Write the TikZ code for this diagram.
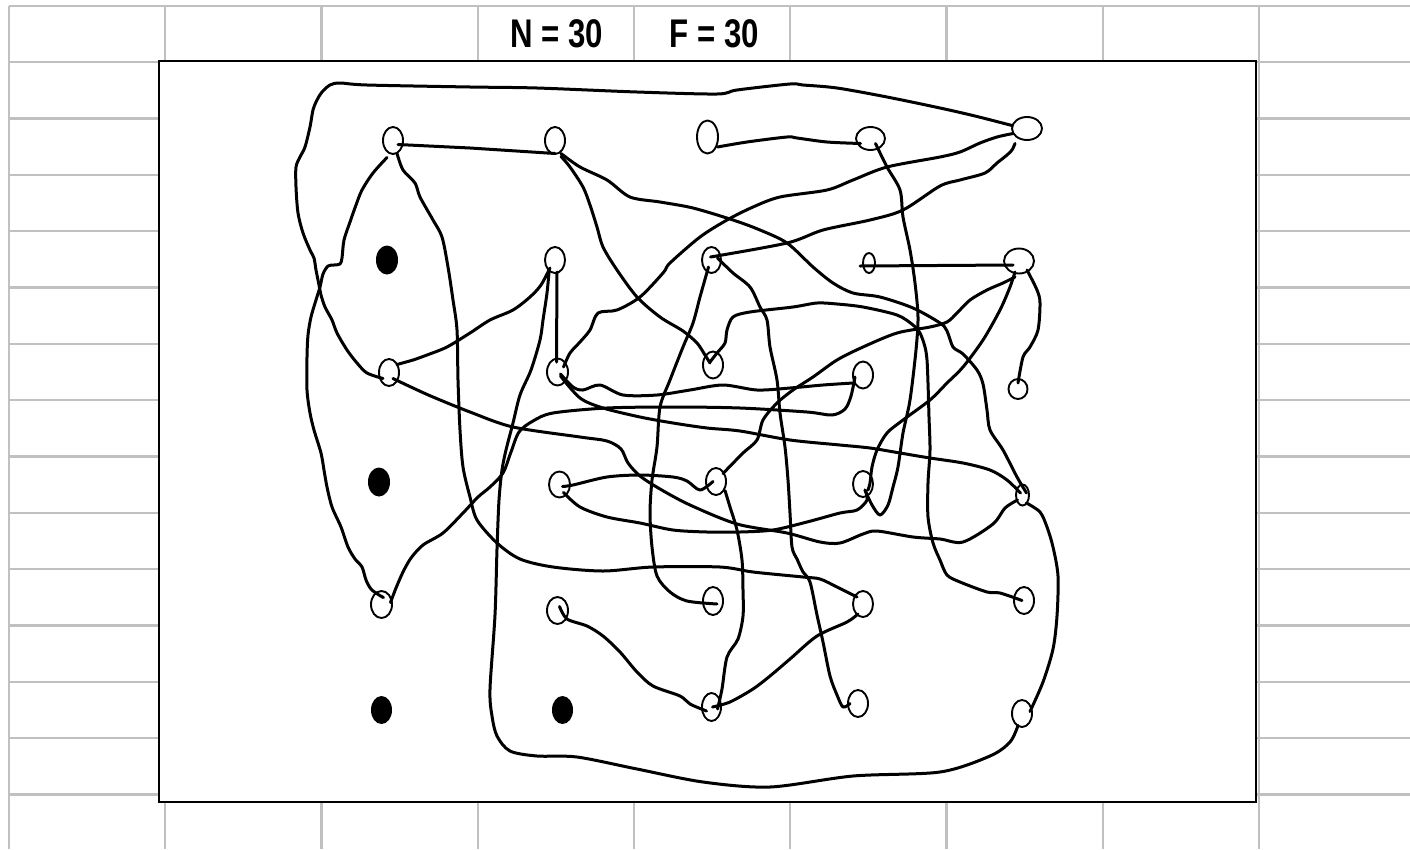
\documentclass[tikz,border=0pt]{standalone}
\usepackage{fontspec}
\newfontfamily\narrowfont[FakeStretch=0.78]{Liberation Sans}
\usetikzlibrary{shapes.geometric,calc}
\definecolor{gridgray}{RGB}{192,192,192}
\begin{document}
\begin{tikzpicture}[x=1pt,y=-1pt,
  gridline/.style={draw=gridgray,line width=2.4},
  nd/.style={ellipse,draw,line width=1.9,inner sep=0,minimum width=20,minimum height=27},
  fd/.style={ellipse,fill,inner sep=0,minimum width=22,minimum height=29},
  wire/.style={line width=3,line cap=round,line join=round},
  lbl/.style={font=\narrowfont\bfseries\fontsize{40}{42}\selectfont,anchor=base,inner sep=0}]
\useasboundingbox (0,0) rectangle (1410,849);
% spreadsheet grid
\foreach \i in {0,...,8} \draw[gridline] (9+156.25*\i,5.7) -- (9+156.25*\i,849);
\foreach \j in {0,...,14} \draw[gridline] (9,5.7+56.35*\j) -- (1410,5.7+56.35*\j);
% labels
\node[lbl] (nlab) at (556.5,47) {N = 30};
\node[lbl] (flab) at (714.5,47) {F = 30};
% frame
\draw[line width=2.6,fill=white] (159,61) rectangle (1256,802);
% nodes
\node[nd] (a1) at (393,140.5) {};
\node[nd] (b1) at (555,140.5) {};
\node[nd,minimum width=21,minimum height=33] (c1) at (707.5,137) {};
\node[nd,minimum width=29,minimum height=23] (d1) at (870.5,138.5) {};
\node[nd,minimum width=30,minimum height=23] (e1) at (1027,128.5) {};
\node[fd] (a2) at (387,260) {};
\node[nd,minimum height=26] (b2) at (555,260) {};
\node[nd,minimum width=19,minimum height=26] (c2) at (711.5,260) {};
\node[nd,minimum width=12,minimum height=20] (d2) at (869,263) {};
\node[nd,minimum width=30,minimum height=25] (e2) at (1019,261) {};
\node[nd] (a3) at (389,372.5) {};
\node[nd,minimum width=21] (b3) at (557.5,372) {};
\node[nd] (c3) at (713,365) {};
\node[nd] (d3) at (863,375) {};
\node[nd,minimum width=19,minimum height=20] (e3) at (1018,389) {};
\node[fd] (a4) at (379,482) {};
\node[nd,minimum width=21,minimum height=26] (b4) at (559.5,484.5) {};
\node[nd] (c4) at (716,481.5) {};
\node[nd,minimum height=26] (d4) at (863,484) {};
\node[nd,minimum width=13,minimum height=21] (e4) at (1022.5,495) {};
\node[nd,minimum width=21] (a5) at (381.5,604.5) {};
\node[nd,minimum width=21] (b5) at (557.5,610.5) {};
\node[nd,minimum height=28] (c5) at (713,601) {};
\node[nd,minimum height=26] (d5) at (863,604) {};
\node[nd] (e5) at (1024,600.5) {};
\node[fd,minimum width=21,minimum height=28] (a6) at (381.5,710) {};
\node[fd,minimum width=21,minimum height=28] (b6) at (562.5,710) {};
\node[nd,minimum width=19,minimum height=28] (c6) at (711.5,707) {};
\node[nd] (d6) at (858,703.5) {};
\node[nd] (e6) at (1022,713.5) {};
% connectors
\draw[wire] plot[smooth,tension=0.5] coordinates {($(e1)+(-15,-3)$) (975,116) (940,108) (887,97) (837,88) (803,85) (790,84) (737,90) (717,94) (637,92) (537,88) (470,87) (367,85) (340,83) (330,85) (322,92) (317,100) (313,110) (310,127) (305,147) (300,157) (296,167) (296,187) (298,213) (303,233) (310,250) (314,258) (316,270) (319,285) (321,295) (325,307) (332,320) (337,333) (347,350) (357,363) (367,373) ($(a3)+(-6,6)$)};
\draw[wire] plot[smooth,tension=0.5] coordinates {($(a1)+(-6,17)$) (373,173) (362,190) (356,205) (350,222) (344,240) (342,258) (340,264) (334,265) (328,266) (323,274) (320,287) (316,300) (311,317) (308,335) (307,357) (307,390) (310,413) (314,430) (321,453) (324,470) (327,487) (332,507) (341,527) (348,547) (355,559) (362,567) (366,580) (371,589) (379,595) ($(a5)+(2,-7)$)};
\draw[wire] plot[smooth,tension=0.5] coordinates {($(a5)+(9,-2)$) (396,588) (403,572) (411,558) (423,545) (443,533) (463,513) (478,497) (490,487) (503,473) (511,452) (519,432) (533,421) (553,413) (607,408) (673,407) (740,408) (807,412) (832,415) (845,409) (851,396) ($(d3)+(-8,2)$)};
\draw[wire] plot[smooth,tension=0.5] coordinates {($(b2)+(-6,12)$) (547,293) (543,320) (540,340) (531,370) (520,395) (513,423) (506,450) (502,470) (499,500) (497,549) (495,615) (490,689) (492,716) (497,736) (510,751) (537,756) (577,757) (637,769) (703,782) (770,787) (853,776) (940,772) (990,756) (1010,742) ($(e6)+(-4,12)$)};
\draw[wire] plot[smooth,tension=0.5] coordinates {($(a3)+(8,-8)$) (413,360) (427,355) (447,347) (470,333) (490,320) (513,310) (530,297) (541,285) ($(b2)+(-5,8)$)};
\draw[wire] plot[smooth,tension=0.5] coordinates {($(a3)+(4,6)$) (413,388) (433,397) (470,412) (513,427) (580,437) (607,441) (621,449) (628,463) (640,476) (660,489) (690,505) (737,524) (787,533) (820,542) (840,543) (863,534) (877,531) (913,537) (940,539) (963,542) (993,524) (1005,508) ($(e4)+(-5,5)$)};
\draw[wire] ($(a1)+(5,4)$) -- (470,148) -- ($(b1)+(0,13)$);
\draw[wire] plot[smooth,tension=0.5] coordinates {($(a1)+(4,13)$) (403,170) (415,183) (420,197) (433,220) (442,237) (448,267) (453,300) (457,330) (458,380) (460,430) (463,467) (470,497) (477,520) (497,543) (520,559) (553,567) (603,571) (653,567) (720,567) (753,572) (803,577) (820,579) (837,587) ($(d5)+(-6,-7)$)};
\draw[wire] plot[smooth,tension=0.5] coordinates {($(b1)+(6,16)$) (570,167) (583,187) (590,205) (597,227) (603,247) (617,270) (637,297) (660,317) (683,331) (697,343) (705,355) ($(c3)+(-3,-2)$)};
\draw[wire] plot[smooth,tension=0.5] coordinates {($(b1)+(6,13)$) (580,167) (607,180) (630,197) (660,202) (693,208) (733,220) (760,230) (787,243) (813,267) (833,283) (853,293) (880,297) (913,308) (940,323) (947,331) (953,347) (963,354) (977,370) (983,384) (987,410) (990,430) (1003,450) (1017,477) ($(e4)+(4,-2)$)};
\draw[wire] ($(d2)+(-9,3)$) -- ($(e2)+(-6,4)$);
\draw[wire] plot[smooth,tension=0.5] coordinates {($(c4)+(7,-8)$) (743,453) (757,440) (763,420) (777,403) (793,390) (813,377) (837,360) (863,347) (897,333) (930,327) (947,322) (957,313) (970,300) (987,290) (1003,283) ($(e2)+(-4,16)$)};
\draw[wire] plot[smooth,tension=0.5] coordinates {($(e2)+(-4,11)$) (1010,287) (1000,310) (983,340) (963,367) (947,383) (930,400) (903,420) (887,433) (877,450) (872,467) (870,483) ($(d4)+(5,6)$)};
\draw[wire] plot[smooth,tension=0.5] coordinates {($(d1)+(5,5)$) (887,167) (900,190) (903,217) (910,250) (915,283) (918,317) (916,350) (910,400) (903,433) (898,467) (893,487) (888,505) (880,515) (872,505) ($(d4)+(2,6)$)};
\draw[wire] plot[smooth,tension=0.5] coordinates {($(c3)+(-3,-3)$) (717,353) (725,343) (727,330) (733,317) (750,312) (793,307) (817,303) (837,304) (863,307) (897,315) (913,325) (920,333) (925,347) (927,360) (928,383) (929,417) (930,450) (928,483) (928,517) (933,543) (940,560) (947,575) (960,582) (987,592) (1000,593) ($(e5)+(-2,0)$)};
\draw[wire] plot[smooth,tension=0.5] coordinates {($(b3)+(3,2)$) (573,387) (583,390) (600,385) (623,395) (657,395) (690,390) (723,385) (757,390) (790,388) (823,385) ($(d3)+(-10,8)$)};
\draw[wire] plot[smooth,tension=0.5] coordinates {($(b3)+(3,4)$) (580,398) (603,408) (640,417) (673,423) (707,428) (740,431) (790,440) (840,445) (870,448) (900,453) (930,458) (963,463) (990,470) (1007,480) ($(e4)+(-2,-2)$)};
\draw[wire] plot[smooth,tension=0.5] coordinates {($(b4)+(4,8)$) (580,507) (607,517) (640,523) (673,530) (707,532) (740,532) (773,530) (807,522) (840,513) (857,510) (867,500) ($(d4)+(2,6)$)};
\draw[wire] plot[smooth,tension=0.5] coordinates {($(e4)+(4,8)$) (1040,512) (1047,527) (1053,547) (1058,576) (1057,616) (1053,649) (1043,682) ($(e6)+(8,-2)$)};
\draw[wire] plot[smooth,tension=0.5] coordinates {($(b3)+(6,-5)$) (570,353) (580,342) (590,330) (598,313) (617,310) (640,297) (663,273) (670,263) (700,237) (727,220) (753,207) (780,197) (827,190) (853,180) (887,167) (940,157) (960,152) (980,143) (997,137) ($(e1)+(-14,5)$)};
\draw[wire] ($(b2)+(2,12)$) -- ($(b3)+(-1,-10)$);
\draw[wire] plot[smooth,tension=0.5] coordinates {($(c2)+(-3,7)$) (700,297) (693,323) (683,347) (670,380) (660,407) (657,447) (652,480) (650,513) (652,547) (657,576) (670,592) (687,601) ($(c5)+(4,3)$)};
\draw[wire] plot[smooth,tension=0.5] coordinates {($(c2)+(6,-2)$) (733,273) (750,287) (760,307) (767,320) (770,347) (777,380) (780,413) (785,447) (788,480) (790,513) (792,547) (797,559) (803,572) (810,582) (817,615) (823,642) (830,676) (837,695) (843,707) ($(d6)+(-8,0)$)};
\draw[wire] plot[smooth,tension=0.5] coordinates {($(b4)+(3,2)$) (573,485) (607,477) (640,475) (673,477) (687,481) (700,490) ($(c4)+(-3,0)$)};
\draw[wire] plot[smooth,tension=0.5] coordinates {($(c4)+(9,9)$) (730,507) (737,530) (742,560) (743,590) (743,616) (738,639) (727,657) (722,689) ($(c6)+(6,2)$)};
\draw[wire] plot[smooth,tension=0.5] coordinates {($(c1)+(10,10)$) (747,142) (787,137) (797,138) (827,142) ($(d1)+(-10,5)$)};
\draw[wire] plot[smooth,tension=0.5] coordinates {($(c2)+(-1,-3)$) (787,243) (823,230) (870,220) (903,210) (940,186) (960,180) (985,173) (997,163) (1007,155) (1012,150) ($(e1)+(-12,15)$)};
\draw[wire] plot[smooth,tension=0.5] coordinates {($(e2)+(8,9)$) (1037,290) (1040,303) (1038,330) (1030,347) (1023,357) ($(e3)+(0,-6)$)};
\draw[wire] plot[smooth,tension=0.5] coordinates {($(b5)+(2,-4)$) (567,619) (587,626) (603,636) (620,652) (637,672) (653,686) (680,696) (690,704) ($(c6)+(-5,4)$)};
\draw[wire] plot[smooth,tension=0.5] coordinates {($(d5)+(-5,10)$) (847,622) (817,636) (790,659) (770,676) (753,689) (730,702) ($(c6)+(1,0)$)};
\end{tikzpicture}
\end{document}
